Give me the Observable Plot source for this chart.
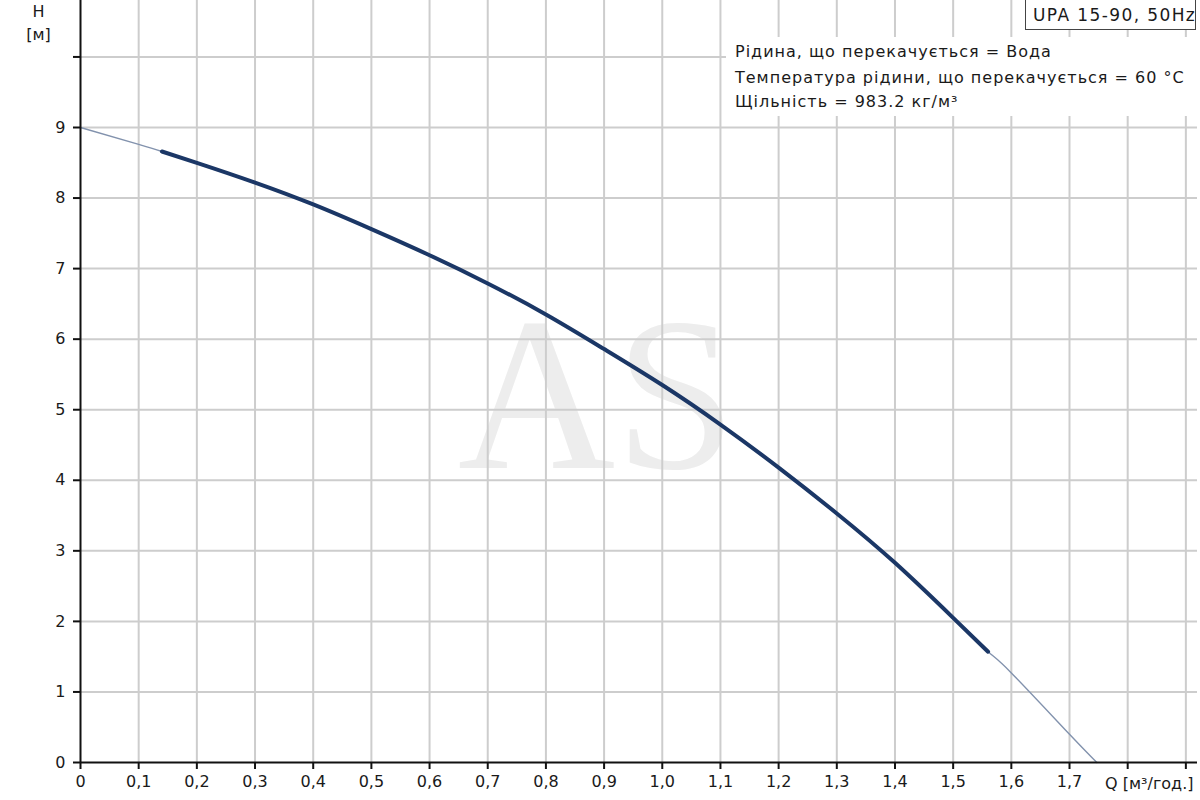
<!DOCTYPE html>
<html>
<head>
<meta charset="utf-8">
<script src="https://cdn.jsdelivr.net/npm/d3@7"></script>
<script src="https://cdn.jsdelivr.net/npm/@observablehq/plot@0.6"></script>
<style>
  body { margin: 0; background: #fff; }
  #wrap { position: relative; width: 1200px; height: 800px; overflow: hidden; font-family: "DejaVu Sans", sans-serif; color: #1a1a1a; }
  #wrap svg { display: block; }
  #info { position: absolute; left: 726px; top: 37px; width: 471px; height: 79px; background: #fff; }
  .line { position: absolute; left: 735px; font-size: 16px; line-height: 16px; letter-spacing: 1px; white-space: nowrap; }
  #model { position: absolute; left: 1025px; top: -2px; width: 171px; height: 32px; border: 1.5px solid #444; background: #fff; box-sizing: border-box; }
  #modelText { position: absolute; left: 1033px; top: 7px; font-size: 17px; line-height: 17px; letter-spacing: 1.4px; white-space: nowrap; }
</style>
</head>
<body>
<div id="wrap"></div>
<script>
// Pump curve readings (Q in m³/h, H in m)
const flow = [0, 0.1, 0.14, 0.2, 0.3, 0.4, 0.5, 0.6, 0.7, 0.8, 0.9, 1.0, 1.1, 1.2, 1.3, 1.4, 1.5, 1.56, 1.6, 1.7, 1.747];
const head = [9.0, 8.76, 8.66, 8.50, 8.22, 7.91, 7.56, 7.19, 6.79, 6.35, 5.86, 5.35, 4.79, 4.18, 3.53, 2.83, 2.05, 1.57, 1.27, 0.40, 0];
// Working range drawn with the thick line
const dutyStart = 0.14;
const dutyEnd = 1.56;

const xTicks = [0, 0.1, 0.2, 0.3, 0.4, 0.5, 0.6, 0.7, 0.8, 0.9, 1.0, 1.1, 1.2, 1.3, 1.4, 1.5, 1.6, 1.7, 1.8, 1.9];
const xTickLabels = ["0", "0,1", "0,2", "0,3", "0,4", "0,5", "0,6", "0,7", "0,8", "0,9", "1,0", "1,1", "1,2", "1,3", "1,4", "1,5", "1,6", "1,7", "", ""];
const yTicks = [0, 1, 2, 3, 4, 5, 6, 7, 8, 9, 10];
const yTickLabels = ["0", "1", "2", "3", "4", "5", "6", "7", "8", "9", ""];

const yAxisTitle = ["H", "[м]"];
const xAxisTitle = "Q [м³/год.]";
const modelLabel = "UPA 15-90, 50Hz";
const infoLines = [
  "Рідина, що перекачується = Вода",
  "Температура рідини, що перекачується = 60 °C",
  "Щільність = 983.2 кг/м³"
];
const watermark = "AS";

const curve = flow.map((q, i) => ({q, h: head[i]}));
const duty = curve.filter(d => d.q >= dutyStart && d.q <= dutyEnd);
const xLabelMap = new Map(xTicks.map((t, i) => [t, xTickLabels[i]]));
const yLabelMap = new Map(yTicks.map((t, i) => [t, yTickLabels[i]]));

const chart = Plot.plot({
  width: 1200,
  height: 800,
  marginLeft: 80,
  marginRight: 3,
  marginTop: 0,
  marginBottom: 38,
  x: {domain: [0, 1.92]},
  y: {domain: [0, 10.8]},
  style: {fontFamily: "DejaVu Sans, sans-serif", fontSize: "16px", color: "#1a1a1a", background: "#fff"},
  marks: [
    Plot.text([watermark], {frameAnchor: "middle", text: d => d, dx: -42, dy: 17, fontFamily: "Liberation Serif", fontSize: 218, fill: "#ededed"}),
    Plot.ruleX(xTicks.slice(1), {stroke: "#cdcdcd", strokeWidth: 2}),
    Plot.ruleY(yTicks.slice(1), {stroke: "#cdcdcd", strokeWidth: 2}),
    Plot.line(curve, {x: "q", y: "h", curve: "natural", stroke: "#8292ad", strokeWidth: 1.4}),
    Plot.line(duty, {x: "q", y: "h", curve: "natural", stroke: "#1b3766", strokeWidth: 4}),
    Plot.axisX({ticks: xTicks, tickFormat: d => xLabelMap.get(d), tickSize: 7, tickPadding: 6, stroke: "#111", strokeWidth: 2, label: null, fontSize: 16}),
    Plot.axisY({ticks: yTicks, tickFormat: d => yLabelMap.get(d), tickSize: 7, tickPadding: 8, stroke: "#111", strokeWidth: 2, label: null, fontSize: 16}),
    Plot.ruleX([0], {stroke: "#111", strokeWidth: 2}),
    Plot.ruleY([0], {stroke: "#111", strokeWidth: 2}),
    Plot.text([yAxisTitle[0]], {frameAnchor: "top-left", text: d => d, dx: -42, dy: 11, textAnchor: "middle", lineAnchor: "middle", fontSize: 16, fill: "#1a1a1a"}),
    Plot.text([yAxisTitle[1]], {frameAnchor: "top-left", text: d => d, dx: -42, dy: 34, textAnchor: "middle", lineAnchor: "middle", fontSize: 16, fill: "#1a1a1a"}),
    Plot.text([xAxisTitle], {frameAnchor: "bottom-right", text: d => d, dx: -4, dy: 21, textAnchor: "end", lineAnchor: "middle", fontSize: 16, fill: "#1a1a1a", style: "letter-spacing:0.7px"})
  ]
});

const wrap = document.getElementById("wrap");
wrap.appendChild(chart);

const info = document.createElement("div");
info.id = "info";
wrap.appendChild(info);
const tops = [44, 70, 94];
infoLines.forEach((t, i) => {
  const d = document.createElement("div");
  d.className = "line";
  d.style.top = tops[i] + "px";
  d.textContent = t;
  wrap.appendChild(d);
});
const box = document.createElement("div");
box.id = "model";
wrap.appendChild(box);
const mt = document.createElement("div");
mt.id = "modelText";
mt.textContent = modelLabel;
wrap.appendChild(mt);
</script>
</body>
</html>
